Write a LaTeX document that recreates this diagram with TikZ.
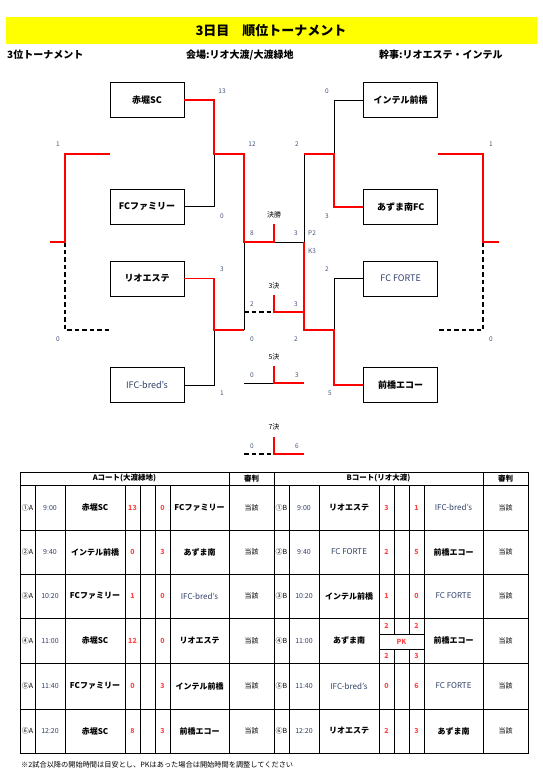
\documentclass[tikz,border=0pt]{standalone}
\usepackage{fontspec}
\setmainfont{Noto Sans CJK JP}
\usetikzlibrary{positioning}
\definecolor{tnYellow}{HTML}{FFFF00}
\definecolor{tnRed}{HTML}{FF0000}
\definecolor{tnScore}{HTML}{45557A}
\definecolor{tnPink}{HTML}{FF4545}
\definecolor{tnSlate}{HTML}{2F3F66}
\newcommand{\latn}[1]{\textcolor{tnSlate}{\mdseries #1}}

\begin{document}
\begin{tikzpicture}[x=1pt,y=-1pt,
    team/.style={draw,line width=0.7pt,minimum width=74pt,minimum height=35pt,
                 inner sep=0pt,font=\fontsize{9}{9}\selectfont\bfseries},
    win/.style={draw=tnRed,line width=1.6pt},
    lose/.style={draw=black,line width=0.7pt},
    nogame/.style={draw=black,line width=1.4pt,dash pattern=on 4.5pt off 3pt},
    sc/.style={font=\fontsize{6.5}{6.5}\selectfont,text=tnScore,inner sep=0pt},
    rnd/.style={font=\fontsize{7}{7}\selectfont,inner sep=0pt},
    grid/.style={draw=black,line width=0.7pt},
    cell/.style={font=\fontsize{7}{7}\selectfont,inner sep=0pt},
    hd/.style={font=\fontsize{7.5}{7.5}\selectfont\bfseries,inner sep=0pt},
    tname/.style={font=\fontsize{8}{8}\selectfont\bfseries,inner sep=0pt},
    goals/.style={font=\fontsize{7}{7}\selectfont\bfseries,inner sep=0pt,text=tnPink},
    head/.style={anchor=west,inner sep=0pt,font=\fontsize{10}{10}\selectfont\bfseries}]
  \useasboundingbox (0,0) rectangle (542,772);

  % title lines
  \fill[tnYellow] (6,17) rectangle (537,44);
  \node[font=\fontsize{13}{13}\selectfont\bfseries] (title) at (271,31) {3日目　順位トーナメント};
  \node[head] (sub) at (7,55) {3位トーナメント};
  \node[head] (venue) at (186,55) {会場:リオ大渡/大渡緑地};
  \node[head] (host) at (379,55) {幹事:リオエステ・インテル};

  % teams
  \node[team] (aka) at (147,100) {赤堀SC};
  \node[team,below=71pt of aka] (fcf) {FCファミリー};
  \node[team,below=36pt of fcf] (rio) {リオエステ};
  \node[team,below=71pt of rio] (ifc) {\latn{IFC-bred's}};
  \node[team,right=179pt of aka] (int) {インテル前橋};
  \node[team,right=179pt of fcf] (azu) {あずま南FC};
  \node[team,right=179pt of rio] (frt) {\latn{FC FORTE}};
  \node[team,right=179pt of ifc] (eco) {前橋エコー};

  % junctions
  \coordinate (lt) at (214,154);
  \coordinate (lb) at (214,330);
  \coordinate (rt) at (334,154);
  \coordinate (rb) at (334,330);
  \coordinate (sl) at (244,242);
  \coordinate (fin) at (274,242);
  \coordinate (finT) at (274,224);
  \coordinate (sr) at (304,242);
  \coordinate (t3L) at (244,312);
  \coordinate (t3) at (274,312);
  \coordinate (t3T) at (274,295);
  \coordinate (t5L) at (244,383);
  \coordinate (t5) at (274,383);
  \coordinate (t5T) at (274,366);
  \coordinate (t7L) at (244,454);
  \coordinate (t7) at (274,454);
  \coordinate (t7T) at (274,437);
  \coordinate (oL) at (65,242);
  \coordinate (oLe) at (50,242);
  \coordinate (oR) at (483,242);
  \coordinate (oRe) at (499,242);

  % losing and unplayed sides
  \draw[lose] (fcf.east) -| (lt);
  \draw[lose] (ifc.east) -| (lb);
  \draw[lose] (lb -| sl) -- (sl);
  \draw[lose] (int.west) -| (rt);
  \draw[lose] (frt.west) -| (rb);
  \draw[lose] (rt -| sr) -- (sr);
  \draw[lose] (fin) -- (sr);
  \draw[lose] (t5L) -- (t5);
  \draw[nogame] (t3L) -- (t3);
  \draw[nogame] (t7L) -- (t7);
  \draw[nogame] (oL) |- (rio.west |- lb);
  \draw[nogame] (oR) |- (frt.east |- rb);

  % winning sides
  \draw[win] (aka.east) -| (lt) -| (sl) -- (fin) -- (finT);
  \draw[win] (rio.east) -| (lb) -- (lb -| sl);
  \draw[win] (azu.west) -| (rt) -- (rt -| sr);
  \draw[win] (eco.west) -| (rb) -- (rb -| sr) -- (sr);
  \draw[win] (t3T) -- (t3) -- (t3 -| sr);
  \draw[win] (t5T) -- (t5) -- (t5 -| sr);
  \draw[win] (t7T) -- (t7) -- (t7 -| sr);
  \draw[win] (oLe) -- (oL) |- (aka.west |- lt);
  \draw[win] (oRe) -- (oR) |- (int.east |- rt);

  % scores
  \foreach \p/\s [count=\k] in {{222,91}/13,{252,144}/12,{222,216}/0,{252,233}/8,
      {222,269}/3,{222,393}/1,{252,304}/2,{252,339}/0,
      {327,91}/0,{297,144}/2,{327,216}/3,{296,233}/3,
      {327,269}/2,{330,393}/5,{296,304}/3,{296,339}/2,
      {58,144}/1,{58,339}/0,{491,144}/1,{491,339}/0,
      {252,375}/0,{297,375}/3,{252,446}/0,{297,446}/6,
      {312,233}/P2,{312,251}/K3}
    \node[sc] (s\k) at (\p) {\s};
  \node[rnd] (r1) at (274,215) {決勝};
  \node[rnd] (r3) at (274,286) {3決};
  \node[rnd] (r5) at (274,357) {5決};
  \node[rnd] (r7) at (274,427) {7決};

  % table grid
  \draw[grid] (20,472) rectangle (528,753);
  \foreach \y in {485,530,574,618,663,709}
    \draw[grid] (20,\y) -- (528,\y);
  \foreach \x in {229,274,483}
    \draw[grid] (\x,472) -- (\x,753);
  \foreach \x in {35,65,125,140,155,170,289,319,379,424}
    \draw[grid] (\x,485) -- (\x,753);
  \foreach \x in {394,409}
    \draw[grid] (\x,485) -- (\x,634) (\x,649) -- (\x,753);
  \draw[grid] (379,634) -- (424,634) (379,649) -- (424,649);

  \node[hd] (hA) at (124.5,478.5) {Aコート(大渡緑地)};
  \node[hd] (hAr) at (251.5,478.5) {審判};
  \node[hd] (hB) at (378.5,478.5) {Bコート(リオ大渡)};
  \node[hd] (hBr) at (505.5,478.5) {審判};

  % A court
  \foreach \yc/\no/\tm/\hm/\hs/\as/\aw [count=\i] in {
      507.5/①A/9:00/赤堀SC/13/0/FCファミリー,
      552/②A/9:40/インテル前橋/0/3/あずま南,
      596/③A/10:20/FCファミリー/1/0/\latn{IFC-bred's},
      640.5/④A/11:00/赤堀SC/12/0/リオエステ,
      686/⑤A/11:40/FCファミリー/0/3/インテル前橋,
      731/⑥A/12:20/赤堀SC/8/3/前橋エコー}{
    \node[cell] (aNo\i) at (27.5,\yc) {\no};
    \node[cell,text=tnSlate] (aTm\i) at (50,\yc) {\tm};
    \node[tname] (aHm\i) at (95,\yc) {\hm};
    \node[goals] (aHs\i) at (132.5,\yc) {\hs};
    \node[goals] (aAs\i) at (162.5,\yc) {\as};
    \node[tname] (aAw\i) at (199.5,\yc) {\aw};
    \node[cell] (aRf\i) at (251.5,\yc) {当該};
  }

  % B court
  \foreach \yc/\no/\tm/\hm/\hs/\as/\aw [count=\i] in {
      507.5/①B/9:00/リオエステ/3/1/\latn{IFC-bred's},
      552/②B/9:40/\latn{FC FORTE}/2/5/前橋エコー,
      596/③B/10:20/インテル前橋/1/0/\latn{FC FORTE},
      640.5/④B/11:00/あずま南/{}/{}/前橋エコー,
      686/⑤B/11:40/\latn{IFC-bred's}/0/6/\latn{FC FORTE},
      731/⑥B/12:20/リオエステ/2/3/あずま南}{
    \node[cell] (bNo\i) at (281.5,\yc) {\no};
    \node[cell,text=tnSlate] (bTm\i) at (304,\yc) {\tm};
    \node[tname] (bHm\i) at (349,\yc) {\hm};
    \node[goals] (bHs\i) at (386.5,\yc) {\hs};
    \node[goals] (bAs\i) at (416.5,\yc) {\as};
    \node[tname] (bAw\i) at (453.5,\yc) {\aw};
    \node[cell] (bRf\i) at (505.5,\yc) {当該};
  }
  \node[goals] (pkH1) at (386.5,626) {2};
  \node[goals] (pkA1) at (416.5,626) {2};
  \node[goals] (pk) at (401.5,641.5) {PK};
  \node[goals] (pkH2) at (386.5,656) {2};
  \node[goals] (pkA2) at (416.5,656) {3};

  \node[anchor=west,inner sep=0pt,font=\fontsize{7.2}{7.2}\selectfont] (note) at (21,765)
    {※2試合以降の開始時間は目安とし、PKはあった場合は開始時間を調整してください};
\end{tikzpicture}
\end{document}
